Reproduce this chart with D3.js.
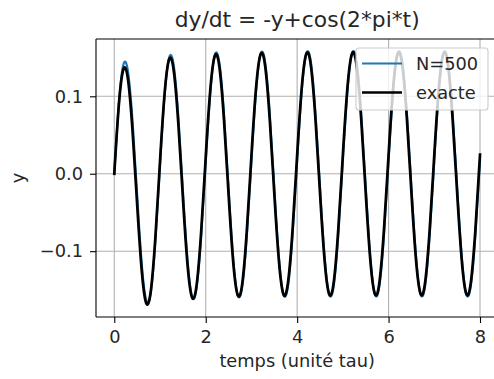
<!DOCTYPE html>
<html>
<head>
<meta charset="utf-8">
<script src="https://cdn.jsdelivr.net/npm/d3@7"></script>
<style>
  html, body { margin: 0; padding: 0; background: #ffffff; }
  svg { display: block; }
  text { font-family: "DejaVu Sans", sans-serif; fill: #262626; }
</style>
</head>
<body>
<svg id="chart" width="494" height="379"></svg>
<script>
// ---- data ----
const times = d3.range(0, 81).map(i => i / 10); // 0.0 .. 8.0, step 0.1
const yNumerique = [
  0.0000, 0.0910, 0.1411, 0.1318, 0.0672, -0.0276, -0.1159, -0.1636, -0.1522, -0.0856,
  0.0109, 0.1008, 0.1500, 0.1399, 0.0745, -0.0210, -0.1099, -0.1582, -0.1473, -0.0812,
  0.0149, 0.1044, 0.1533, 0.1428, 0.0772, -0.0186, -0.1078, -0.1563, -0.1455, -0.0796,
  0.0164, 0.1058, 0.1545, 0.1439, 0.0781, -0.0177, -0.1070, -0.1556, -0.1449, -0.0790,
  0.0169, 0.1062, 0.1549, 0.1443, 0.0785, -0.0174, -0.1067, -0.1553, -0.1447, -0.0788,
  0.0171, 0.1064, 0.1551, 0.1444, 0.0786, -0.0173, -0.1066, -0.1552, -0.1446, -0.0787,
  0.0172, 0.1065, 0.1551, 0.1445, 0.0787, -0.0172, -0.1065, -0.1552, -0.1445, -0.0787,
  0.0172, 0.1065, 0.1551, 0.1445, 0.0787, -0.0172, -0.1065, -0.1552, -0.1445, -0.0787,
  0.0172
];
const yExacte = [
  0.0000, 0.0889, 0.1350, 0.1217, 0.0547, -0.0397, -0.1248, -0.1675, -0.1511, -0.0813,
  0.0156, 0.1030, 0.1478, 0.1333, 0.0652, -0.0302, -0.1162, -0.1598, -0.1441, -0.0749,
  0.0214, 0.1082, 0.1525, 0.1375, 0.0690, -0.0267, -0.1131, -0.1569, -0.1415, -0.0726,
  0.0235, 0.1101, 0.1543, 0.1391, 0.0704, -0.0255, -0.1119, -0.1559, -0.1405, -0.0718,
  0.0243, 0.1108, 0.1549, 0.1397, 0.0710, -0.0250, -0.1115, -0.1555, -0.1402, -0.0714,
  0.0245, 0.1111, 0.1551, 0.1399, 0.0711, -0.0248, -0.1113, -0.1553, -0.1401, -0.0713,
  0.0246, 0.1112, 0.1552, 0.1399, 0.0712, -0.0247, -0.1113, -0.1553, -0.1400, -0.0713,
  0.0247, 0.1112, 0.1552, 0.1400, 0.0712, -0.0247, -0.1112, -0.1553, -0.1400, -0.0713,
  0.0247
];
const seriesNames = ["N=500", "exacte"];
const seriesColors = ["#1f77b4", "#000000"];
const xTicks = [0, 2, 4, 6, 8];
const yTicks = [-0.1, 0.0, 0.1];
const yTickLabels = ["\u22120.1", "0.0", "0.1"];
const titleText = "dy/dt = -y+cos(2*pi*t)";
const xLabelText = "temps (unité tau)";
const yLabelText = "y";

// ---- layout ----
const axLeft = 96, axRight = 498.3, axTop = 39, axBottom = 317;
const fs = 17.8, titleFs = 21.8;
const svg = d3.select("#chart");

const x = d3.scaleLinear().domain([-0.4, 8.4]).range([axLeft, axRight]);
const y = d3.scaleLinear().domain([-0.185, 0.174]).range([axBottom, axTop]);

svg.append("defs").append("clipPath").attr("id", "clip")
  .append("rect").attr("x", axLeft).attr("y", axTop)
  .attr("width", axRight - axLeft).attr("height", axBottom - axTop);

// grid
const grid = svg.append("g");
grid.selectAll("line.gx").data(xTicks).join("line")
  .attr("x1", d => x(d)).attr("x2", d => x(d))
  .attr("y1", axTop).attr("y2", axBottom)
  .attr("stroke", "#b0b0b0").attr("stroke-width", 1.1);
grid.selectAll("line.gy").data(yTicks).join("line")
  .attr("x1", axLeft).attr("x2", axRight)
  .attr("y1", d => y(d)).attr("y2", d => y(d))
  .attr("stroke", "#b0b0b0").attr("stroke-width", 1.1);

// lines
const seriesData = [yNumerique, yExacte];
const widths = [2.2, 2.7];
const lineGen = d3.line().x((d, i) => x(times[i])).y(d => y(d)).curve(d3.curveNatural);
const lines = svg.append("g").attr("clip-path", "url(#clip)");
seriesData.forEach((vals, k) => {
  lines.append("path").attr("d", lineGen(vals))
    .attr("fill", "none").attr("stroke", seriesColors[k])
    .attr("stroke-width", widths[k]).attr("stroke-linejoin", "round").attr("stroke-linecap", "square");
});

// axes
const xAxis = d3.axisBottom(x).tickValues(xTicks).tickFormat(d3.format("d")).tickSize(6).tickPadding(7);
const gx = svg.append("g").attr("transform", `translate(0,${axBottom})`).call(xAxis);
gx.select(".domain").remove();
gx.selectAll(".tick line").attr("stroke", "#000").attr("stroke-width", 1.1);
gx.selectAll(".tick text").attr("font-size", fs).attr("font-family", "DejaVu Sans").attr("fill", "#262626");

const yAxis = d3.axisLeft(y).tickValues(yTicks).tickFormat((d, i) => yTickLabels[i]).tickSize(6).tickPadding(7);
const gy = svg.append("g").attr("transform", `translate(${axLeft},0)`).call(yAxis);
gy.select(".domain").remove();
gy.selectAll(".tick line").attr("stroke", "#000").attr("stroke-width", 1.1);
gy.selectAll(".tick text").attr("font-size", fs).attr("font-family", "DejaVu Sans").attr("fill", "#262626");

// spines
const spines = svg.append("g").attr("stroke", "#000").attr("stroke-width", 1.1);
spines.append("line").attr("x1", axLeft).attr("x2", axLeft).attr("y1", axTop).attr("y2", axBottom);
spines.append("line").attr("x1", axLeft).attr("x2", axRight).attr("y1", axBottom).attr("y2", axBottom);
spines.append("line").attr("x1", axLeft).attr("x2", axRight).attr("y1", axTop).attr("y2", axTop);
spines.append("line").attr("x1", axRight).attr("x2", axRight).attr("y1", axTop).attr("y2", axBottom);

// title and labels
svg.append("text").attr("x", (axLeft + axRight) / 2).attr("y", 27)
  .attr("text-anchor", "middle").attr("font-size", titleFs).text(titleText);
svg.append("text").attr("x", (axLeft + axRight) / 2).attr("y", 367)
  .attr("text-anchor", "middle").attr("font-size", fs).text(xLabelText);
svg.append("text").attr("transform", `translate(24,${(axTop + axBottom) / 2}) rotate(-90)`)
  .attr("text-anchor", "middle").attr("font-size", fs).text(yLabelText);

// legend
const leg = svg.append("g");
leg.append("rect").attr("x", 356).attr("y", 48).attr("width", 132).attr("height", 62)
  .attr("rx", 3).attr("fill", "#ffffff").attr("fill-opacity", 0.8)
  .attr("stroke", "#cccccc").attr("stroke-width", 1.1);
seriesNames.forEach((name, k) => {
  const cy = 63.5 + k * 29;
  leg.append("line").attr("x1", 362).attr("x2", 402).attr("y1", cy).attr("y2", cy)
    .attr("stroke", seriesColors[k]).attr("stroke-width", widths[k]);
  leg.append("text").attr("x", 416).attr("y", cy + 6.4)
    .attr("font-size", fs).text(name);
});
</script>
</body>
</html>
